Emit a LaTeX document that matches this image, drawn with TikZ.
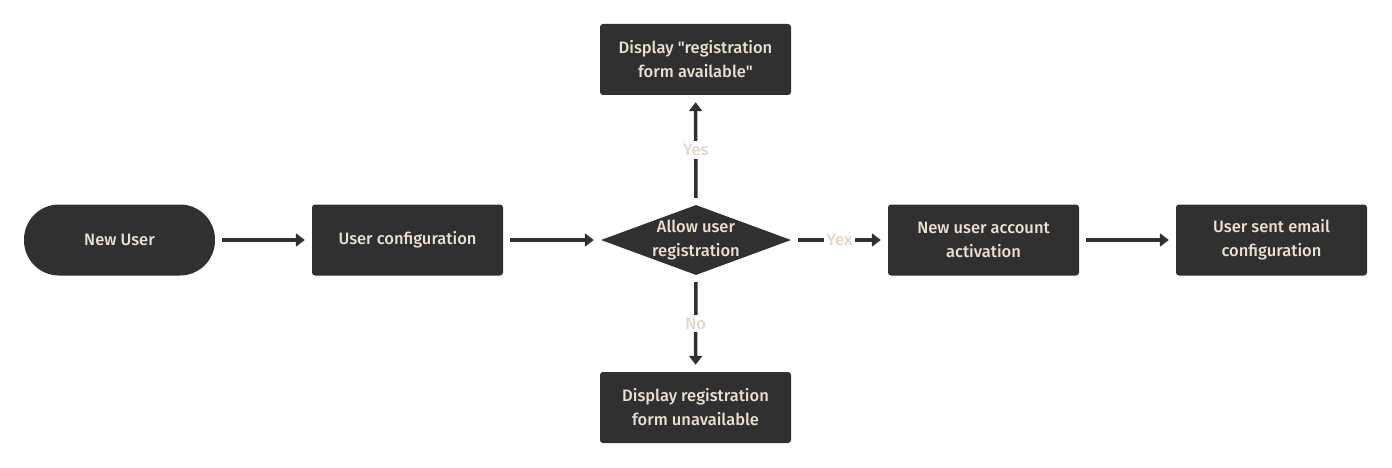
\documentclass[tikz,border=0pt]{standalone}
\usepackage{fontspec}
\setmainfont{Fira Sans}[UprightFont=* Medium]
\usetikzlibrary{arrows.meta,shapes.geometric}
\definecolor{boxfill}{HTML}{303030}
\definecolor{boxtext}{HTML}{EAE0D4}
\definecolor{lbltext}{HTML}{E3D6C9}
\begin{document}
\begin{tikzpicture}[x=1pt,y=-1pt,
  every node/.style={font=\fontsize{16.5}{24}\selectfont},
  procbox/.style={rectangle, rounded corners=3pt, fill=boxfill, text=boxtext, minimum width=191pt, minimum height=71pt, align=center, inner sep=0pt},
  termbox/.style={rectangle, rounded corners=35pt, fill=boxfill, text=boxtext, minimum width=191pt, minimum height=71pt, align=center, inner sep=0pt},
  decbox/.style={diamond, fill=boxfill, minimum width=190pt, minimum height=70pt, inner sep=0pt},
  dectext/.style={text=boxtext, align=center, inner sep=0pt},
  flow/.style={draw=boxfill, line width=3.5pt, -{Triangle[width=13pt,length=9pt]}, shorten >=7pt, shorten <=7pt},
  lbl/.style={text=lbltext, fill=white, inner sep=3pt}]
\useasboundingbox (0,0) rectangle (1392,468);
\node[termbox] (new) at (119.5,240) {New User};
\node[procbox] (conf) at (407.5,240) {User configuration};
\node[decbox] (dec) at (696,240) {};
\node[dectext] (dect) at (696,240) {Allow user\\registration};
\node[procbox] (avail) at (695.5,59.5) {Display \textquotedbl registration\\form available\textquotedbl};
\node[procbox] (unavail) at (695.5,407.5) {Display registration\\form unavailable};
\node[procbox] (act) at (983.5,240) {New user account\\activation};
\node[procbox] (mail) at (1271.5,240) {User sent email\\configuration};
\draw[flow] (new) -- (conf);
\draw[flow] (conf) -- (dec);
\draw[flow] (dec) -- node[lbl] {Yex} (act);
\draw[flow] (dec) -- node[lbl] {Yes} (avail);
\draw[flow] (dec) -- node[lbl] {No} (unavail);
\draw[flow] (act) -- (mail);
\end{tikzpicture}
\end{document}
